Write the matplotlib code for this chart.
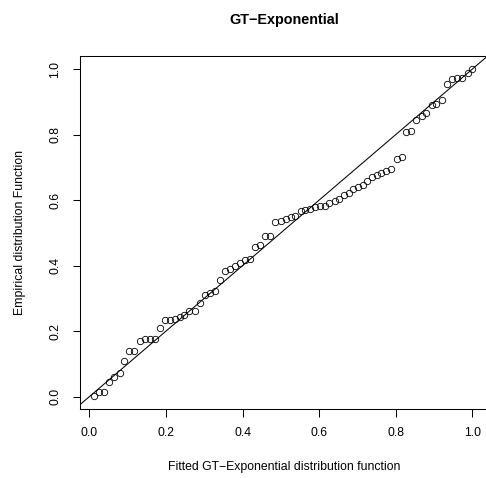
import matplotlib
matplotlib.use("Agg")
import matplotlib.pyplot as plt

plt.rcParams['font.family'] = ['Liberation Sans', 'DejaVu Sans']

# P-P plot data
fitted = [0.012, 0.026, 0.038, 0.052, 0.065, 0.079, 0.091, 0.104, 0.117, 0.132,
          0.145, 0.158, 0.172, 0.184, 0.198, 0.210, 0.223, 0.236, 0.248, 0.261,
          0.275, 0.289, 0.301, 0.314, 0.327, 0.341, 0.355, 0.368, 0.381, 0.394,
          0.407, 0.420, 0.433, 0.446, 0.460, 0.472, 0.486, 0.501, 0.514, 0.526,
          0.538, 0.552, 0.564, 0.576, 0.590, 0.602, 0.615, 0.627, 0.641, 0.653,
          0.665, 0.677, 0.689, 0.702, 0.714, 0.726, 0.738, 0.750, 0.762, 0.775,
          0.789, 0.803, 0.816, 0.828, 0.840, 0.854, 0.868, 0.880, 0.894, 0.906,
          0.920, 0.934, 0.948, 0.960, 0.974, 0.988, 1.000]
empirical = [0.002, 0.014, 0.014, 0.045, 0.059, 0.071, 0.109, 0.140, 0.140, 0.170,
             0.175, 0.175, 0.175, 0.210, 0.234, 0.234, 0.236, 0.244, 0.249, 0.261,
             0.261, 0.287, 0.311, 0.316, 0.322, 0.356, 0.385, 0.391, 0.399, 0.407,
             0.417, 0.420, 0.456, 0.462, 0.491, 0.491, 0.533, 0.537, 0.542, 0.548,
             0.552, 0.568, 0.570, 0.572, 0.580, 0.582, 0.582, 0.592, 0.598, 0.605,
             0.615, 0.623, 0.633, 0.641, 0.647, 0.658, 0.670, 0.678, 0.684, 0.690,
             0.694, 0.727, 0.733, 0.807, 0.811, 0.844, 0.856, 0.866, 0.891, 0.893,
             0.905, 0.954, 0.970, 0.972, 0.972, 0.988, 1.000]
ticks = [0.0, 0.2, 0.4, 0.6, 0.8, 1.0]
tick_labels = ["0.0", "0.2", "0.4", "0.6", "0.8", "1.0"]

fig = plt.figure(figsize=(4.86, 4.78), dpi=100)
ax = fig.add_axes([80/486, 1 - 408.5/478, 408/486, 352.5/478])

ax.plot(fitted, empirical, linestyle='none', marker='o', markersize=4.6,
        markerfacecolor='none', markeredgecolor='black', markeredgewidth=0.6)
ax.axline((0, 0), slope=1, color='black', linewidth=0.75)

ax.set_xlim(-0.0243, 1.041)
ax.set_ylim(-0.036, 1.040)
ax.set_xticks(ticks)
ax.set_xticklabels(tick_labels)
ax.set_yticks(ticks)
ax.set_yticklabels(tick_labels, rotation=90, va='center')
ax.tick_params(direction='out', length=5.4, width=0.75, labelsize=8.8, pad=8)
for s in ax.spines.values():
    s.set_linewidth(0.75)

ax.set_xlabel("Fitted GT\u2212Exponential distribution function", fontsize=8.8, labelpad=16)
ax.set_ylabel("Empirical distribution Function", fontsize=8.8, labelpad=17)
fig.text(284/486, 1 - 20/478, "GT\u2212Exponential", ha='center', va='center',
         fontsize=10.4, fontweight='bold')

fig.savefig("out.png", dpi=100)
